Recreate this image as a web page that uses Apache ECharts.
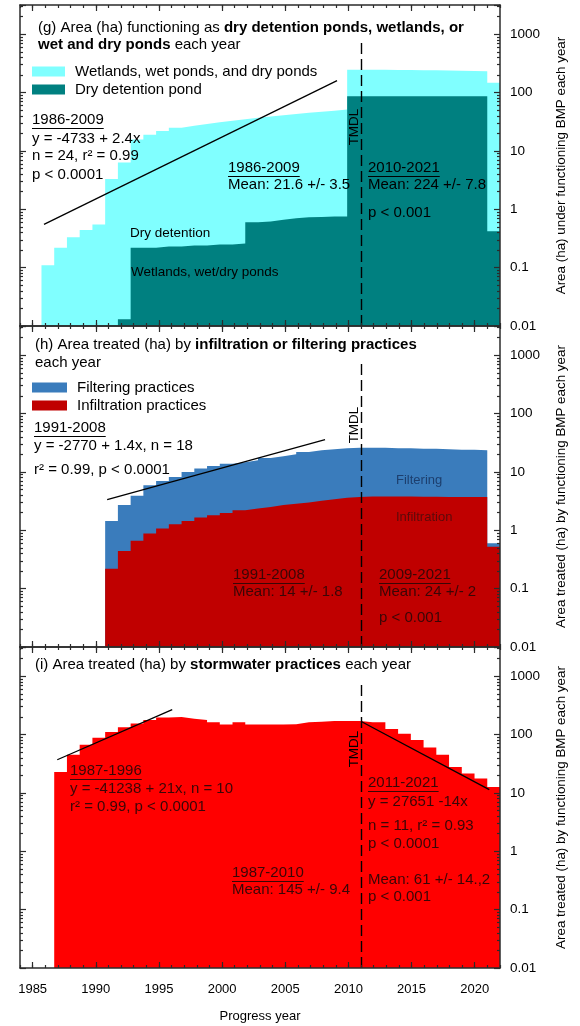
<!DOCTYPE html>
<html>
<head>
<meta charset="utf-8">
<title>Area under functioning BMPs by progress year</title>
<script src="https://cdn.jsdelivr.net/npm/echarts@6/dist/echarts.min.js"></script>
<style>
html, body { margin: 0; padding: 0; background: #fff; }
#chart { width: 580px; height: 1026px; }
</style>
</head>
<body>
<div id="chart"></div>
<script>
// ---- data -------------------------------------------------------------
// Progress years, one step per year
const years = [1986, 1987, 1988, 1989, 1990, 1991, 1992, 1993, 1994, 1995, 1996, 1997,
  1998, 1999, 2000, 2001, 2002, 2003, 2004, 2005, 2006, 2007, 2008, 2009,
  2010, 2011, 2012, 2013, 2014, 2015, 2016, 2017, 2018, 2019, 2020, 2021];

// (g) area (ha) functioning as wetlands / wet and dry ponds, and as dry detention ponds
const wetPonds = [0.11, 0.22, 0.33, 0.44, 0.55, 3.3, 6.3, 15.7, 19, 22, 25, 27,
  29, 31, 33, 35, 37, 39, 41, 43, 45, 47, 49, 51,
  247, 246, 245, 244, 243, 242, 240, 238, 236, 234, 232, 147];
const dryDetention = [null, null, null, null, null, null, 0.013, 0.22, 0.22, 0.23, 0.23, 0.24,
  0.24, 0.25, 0.25, 0.26, 0.6, 0.62, 0.66, 0.7, 0.73, 0.74, 0.75, 0.75,
  86, 86, 86, 86, 86, 86, 86, 86, 86, 86, 86, 0.42];

// (h) area treated (ha) by filtering and by infiltration practices
const filtering = [null, null, null, null, null, 1.44, 2.7, 3.9, 5.9, 7, 8.2, 10,
  11.4, 12.6, 13.8, 14.7, 15.8, 17.3, 18.5, 20, 22, 23.5, 24.5, 25.5,
  26, 26, 26, 25.5, 25.5, 25, 25, 24.5, 24, 24, 23.5, 0.6];
const infiltration = [null, null, null, null, null, 0.22, 0.44, 0.66, 0.88, 1.07, 1.27, 1.44,
  1.65, 1.8, 1.98, 2.2, 2.35, 2.5, 2.7, 2.86, 3.0, 3.2, 3.4, 3.6,
  3.7, 3.8, 3.8, 3.8, 3.8, 3.75, 3.75, 3.7, 3.7, 3.7, 3.7, 0.52];

// (i) area treated (ha) by stormwater practices
const stormwater = [null, 22.8, 45, 67, 88, 111, 133, 155, 177, 196, 200, 187,
  177, 162, 148, 162, 148, 148, 148, 150, 162, 166, 170, 170,
  170, 162, 162, 125, 103, 81, 60, 45, 27.7, 21.4, 17.6, 12.6];

// Fitted trend segments: [year, ha] end points
const trendG = [[1985.9, 0.55], [2009.1, 160]];
const trendH = [[1990.9, 3.36], [2008.15, 35.7]];
const trendI1 = [[1986.95, 37], [1996.05, 267]];
const trendI2 = [[2011.05, 166], [2021.15, 11.4]];

// TMDL year marker
const tmdlYear = 2011;
const tmdlTop = 800;

// Axis ticks and labels
const yearTicks = [1985, 1990, 1995, 2000, 2005, 2010, 2015, 2020];
const decadeLabels = ['0.01', '0.1', '1', '10', '100', '1000'];

// ---- styling --------------------------------------------------------------
const FONT = "'Liberation Sans', Arial, Helvetica, sans-serif";
const AXIS_COLOR = '#2b2b2b';
const C_WET = '#80ffff';
const C_DRY = '#008080';
const C_FILT = '#3a7cbc';
const C_INF = '#c00000';
const C_STORM = '#ff0000';

const TOPS = [5, 326, 647];
const H = 321;
const LOG_MIN = 0.01;
const LOG_MAX = Math.pow(10, 3.5);

const yearMinor = [];
for (let y = 1984; y <= 2022; y++) yearMinor.push(y);
const logMinor = [];
for (let d = -2; d <= 3; d++) {
  for (let k = 2; k <= 9; k++) {
    const v = d + Math.log10(k);
    if (v < 3.5) logMinor.push(v);
  }
}

const grids = [], xAxes = [], yAxes = [], series = [], legends = [], graphics = [];
const lineStyle = { color: AXIS_COLOR, width: 1.5 };
const tickStyle = { color: AXIS_COLOR, width: 1.2 };

function decadeLabel(v) {
  const e = Math.log10(v);
  const r = Math.round(e);
  return Math.abs(e - r) < 1e-6 && r >= -2 && r <= 3 ? decadeLabels[r + 2] : '';
}

function addPanel(p, yName, isLast) {
  grids.push({ left: 20, right: 80, top: TOPS[p], height: H });
  const xb = xAxes.length;
  // bottom axis with major year ticks (labels on the lowest panel)
  xAxes.push({
    gridIndex: p, type: 'value', min: 1984, max: 2022, position: 'bottom', z: 6,
    axisLine: { show: true, onZero: false, lineStyle },
    axisTick: { show: true, inside: true, length: 6, customValues: yearTicks, lineStyle: tickStyle },
    axisLabel: {
      show: isLast, customValues: yearTicks, margin: 15, color: '#000', fontSize: 13, fontFamily: FONT,
      formatter: v => String(v)
    },
    splitLine: { show: false },
    name: isLast ? 'Progress year' : '', nameLocation: 'middle', nameGap: 42,
    nameTextStyle: { color: '#000', fontSize: 13, fontFamily: FONT }
  });
  // bottom axis, yearly minor ticks
  xAxes.push({
    gridIndex: p, type: 'value', min: 1984, max: 2022, position: 'bottom', z: 6,
    axisLine: { show: false, onZero: false },
    axisTick: { show: true, inside: true, length: 3, customValues: yearMinor, lineStyle: tickStyle },
    axisLabel: { show: false }, splitLine: { show: false }
  });
  // top border with major and minor ticks
  xAxes.push({
    gridIndex: p, type: 'value', min: 1984, max: 2022, position: 'top', z: 6,
    axisLine: { show: true, onZero: false, lineStyle },
    axisTick: { show: true, inside: true, length: 6, customValues: yearTicks, lineStyle: tickStyle },
    axisLabel: { show: false }, splitLine: { show: false }
  });
  xAxes.push({
    gridIndex: p, type: 'value', min: 1984, max: 2022, position: 'top', z: 6,
    axisLine: { show: false, onZero: false },
    axisTick: { show: true, inside: true, length: 3, customValues: yearMinor, lineStyle: tickStyle },
    axisLabel: { show: false }, splitLine: { show: false }
  });
  // year slots for the stepped areas: each year fills a one-year-wide band
  xAxes.push({
    gridIndex: p, type: 'value', min: 1983.814, max: 2021.5, show: false
  });

  const yb = yAxes.length;
  // right log axis carrying the data, labels and name
  yAxes.push({
    gridIndex: p, type: 'log', logBase: 10, min: LOG_MIN, max: LOG_MAX,
    position: 'right', z: 6,
    axisLine: { show: true, onZero: false, lineStyle },
    axisTick: { show: true, inside: true, length: 6, lineStyle: tickStyle },
    axisLabel: { show: true, margin: 10, color: '#000', fontSize: 13.5, fontFamily: FONT, formatter: decadeLabel },
    splitLine: { show: false }, minorTick: { show: false },
    name: yName, nameLocation: 'middle', nameRotate: 90, nameGap: 55,
    nameTextStyle: { color: '#000', fontSize: 13.4, fontFamily: FONT }
  });
  // left border, same log scale
  yAxes.push({
    gridIndex: p, type: 'log', logBase: 10, min: LOG_MIN, max: LOG_MAX,
    position: 'left', z: 6,
    axisLine: { show: true, onZero: false, lineStyle },
    axisTick: { show: true, inside: true, length: 6, lineStyle: tickStyle },
    axisLabel: { show: false }, splitLine: { show: false }
  });
  // minor log ticks (exponent units) on both sides
  ['right', 'left'].forEach(pos => {
    yAxes.push({
      gridIndex: p, type: 'value', min: -2, max: 3.5, position: pos, z: 6,
      axisLine: { show: false, onZero: false },
      axisTick: { show: true, inside: true, length: 3, customValues: logMinor, lineStyle: tickStyle },
      axisLabel: { show: false }, splitLine: { show: false }
    });
  });
  return { x: xb, bars: xb + 4, y: yb };
}

// One flat step per year: starts half a year before the year and closes after the last one
function stepPoints(vals) {
  const pts = [];
  years.forEach((y, i) => {
    const v = vals[i];
    if (v == null) return;
    pts.push([y - 0.5, v]);
    if (vals[i + 1] == null) pts.push([y + 0.5, v]);
  });
  return pts;
}

function stepSeries(name, vals, color, ax) {
  return {
    name, type: 'line', step: 'end', xAxisIndex: ax.bars, yAxisIndex: ax.y,
    data: stepPoints(vals), symbol: 'none', showSymbol: false,
    itemStyle: { color },
    lineStyle: { width: 0, opacity: 0 },
    areaStyle: { color, opacity: 1, origin: LOG_MIN },
    emphasis: { disabled: true }, silent: true, z: 2
  };
}

function trendSeries(pts, ax, withTmdl) {
  const s = {
    type: 'line', xAxisIndex: ax.x, yAxisIndex: ax.y, data: pts,
    symbol: 'none', silent: true, z: 4,
    lineStyle: { color: '#000', width: 1.3 }
  };
  if (withTmdl) {
    s.markLine = {
      silent: true, symbol: ['none', 'none'], label: { show: false },
      lineStyle: { color: '#000', width: 1.4, type: [11, 5] },
      data: [[{ coord: [tmdlYear, LOG_MIN] }, { coord: [tmdlYear, tmdlTop] }]]
    };
  }
  return s;
}

// ---- panels ----------------------------------------------------------------
const axG = addPanel(0, 'Area (ha) under functioning BMP each year', false);
const axH = addPanel(1, 'Area treated (ha) by functioning BMP each year', false);
const axI = addPanel(2, 'Area treated (ha) by functioning BMP each year', true);

series.push(stepSeries('Wetlands, wet ponds, and dry ponds', wetPonds, C_WET, axG));
series.push(stepSeries('Dry detention pond', dryDetention, C_DRY, axG));
series.push(trendSeries(trendG, axG, true));

series.push(stepSeries('Filtering practices', filtering, C_FILT, axH));
series.push(stepSeries('Infiltration practices', infiltration, C_INF, axH));
series.push(trendSeries(trendH, axH, true));

series.push(stepSeries('Stormwater practices', stormwater, C_STORM, axI));
series.push(trendSeries(trendI1, axI, true));
series.push(trendSeries(trendI2, axI, false));

function legendAt(top, itemWidth, itemGap, names) {
  return {
    left: 32, top, padding: 0, orient: 'vertical', itemWidth, itemHeight: 10, itemGap,
    icon: 'rect', selectedMode: false, data: names,
    itemStyle: { borderWidth: 0, opacity: 1 },
    lineStyle: { width: 0, opacity: 0 },
    textStyle: { color: '#000', fontSize: 15, fontFamily: FONT, padding: [0, 0, 0, 5] }
  };
}
legends.push(legendAt(64, 33, 3, ['Wetlands, wet ponds, and dry ponds', 'Dry detention pond']));
legends.push(legendAt(380, 35, 3, ['Filtering practices', 'Infiltration practices']));

// ---- titles and annotations -----------------------------------------------
const rich = {
  n: { fontSize: 15, fontFamily: FONT, fill: '#000' },
  b: { fontSize: 15, fontFamily: FONT, fontWeight: 'bold', fill: '#000' }
};
function title(x, y, text) {
  graphics.push({
    type: 'text', x, y, z: 100, silent: true,
    style: { text, rich, font: '15px ' + FONT, fill: '#000', verticalAlign: 'middle' }
  });
}
title(38, 28, '{n|(g) Area (ha) functioning as }{b|dry detention ponds, wetlands, or}');
title(38, 45, '{b|wet and dry ponds}{n| each year}');
title(35, 345, '{n|(h) Area treated (ha) by }{b|infiltration or filtering practices}');
title(35, 363, '{n|each year}');
title(35, 665, '{n|(i) Area treated (ha) by }{b|stormwater practices}{n| each year}');

const measureCtx = document.createElement('canvas').getContext('2d');
function note(x, y, text, opts) {
  const o = Object.assign({ size: 15, color: '#000', underline: false }, opts || {});
  const font = o.size + 'px ' + FONT;
  graphics.push({
    type: 'text', x, y, z: 100, silent: true,
    style: { text, font, fill: o.color, verticalAlign: 'middle' }
  });
  if (o.underline) {
    measureCtx.font = font;
    const w = measureCtx.measureText(text).width;
    const uy = Math.round(y + o.size * 0.55) + 0.5;
    graphics.push({
      type: 'line', z: 100, silent: true,
      shape: { x1: x, y1: uy, x2: x + w, y2: uy },
      style: { stroke: o.color, lineWidth: 1 }
    });
  }
}

// (g)
note(32, 120, '1986-2009', { underline: true });
note(32, 139, 'y = -4733 + 2.4x');
note(32, 156, 'n = 24, r² = 0.99');
note(32, 175, 'p < 0.0001');
note(228, 168, '1986-2009', { underline: true });
note(228, 185, 'Mean: 21.6 +/- 3.5');
note(368, 168, '2010-2021', { underline: true });
note(368, 185, 'Mean: 224 +/- 7.8');
note(368, 213, 'p < 0.001');
note(130, 233, 'Dry detention', { size: 13.5 });
note(131, 272, 'Wetlands, wet/dry ponds', { size: 13.5 });

// (h)
note(34, 428, '1991-2008', { underline: true });
note(34, 446, 'y = -2770 + 1.4x, n = 18');
note(34, 470, 'r² = 0.99, p < 0.0001');
note(396, 480, 'Filtering', { size: 13, color: '#1d3f6e' });
note(396, 517, 'Infiltration', { size: 13, color: '#5a0a0a' });
note(233, 575, '1991-2008', { underline: true, color: '#3a0606' });
note(233, 592, 'Mean: 14 +/- 1.8', { color: '#3a0606' });
note(379, 575, '2009-2021', { underline: true, color: '#3a0606' });
note(379, 592, 'Mean: 24 +/- 2', { color: '#3a0606' });
note(379, 618, 'p < 0.001', { color: '#3a0606' });

// (i)
note(70, 771, '1987-1996', { underline: true, color: '#3a0606' });
note(70, 789, 'y = -41238 + 21x, n = 10', { color: '#3a0606' });
note(70, 807, 'r² = 0.99, p < 0.0001', { color: '#3a0606' });
note(368, 783, '2011-2021', { underline: true, color: '#3a0606' });
note(368, 802, 'y = 27651 -14x', { color: '#3a0606' });
note(368, 826, 'n = 11, r² = 0.93', { color: '#3a0606' });
note(368, 844, 'p < 0.0001', { color: '#3a0606' });
note(368, 880, 'Mean: 61 +/- 14.,2', { color: '#3a0606' });
note(368, 897, 'p < 0.001', { color: '#3a0606' });
note(232, 873, '1987-2010', { underline: true, color: '#3a0606' });
note(232, 890, 'Mean: 145 +/- 9.4', { color: '#3a0606' });

// TMDL labels beside the dashed marker
[127, 425, 749].forEach(cy => {
  graphics.push({
    type: 'text', x: 354, y: cy, rotation: Math.PI / 2, z: 100, silent: true,
    style: { text: 'TMDL', font: '13.5px ' + FONT, fill: '#000', align: 'center', verticalAlign: 'middle' }
  });
});

const chart = echarts.init(document.getElementById('chart'), null, { renderer: 'canvas' });
chart.setOption({
  animation: false,
  backgroundColor: '#fff',
  textStyle: { fontFamily: FONT },
  grid: grids,
  xAxis: xAxes,
  yAxis: yAxes,
  legend: legends,
  series,
  graphic: { elements: graphics }
});
</script>
</body>
</html>
